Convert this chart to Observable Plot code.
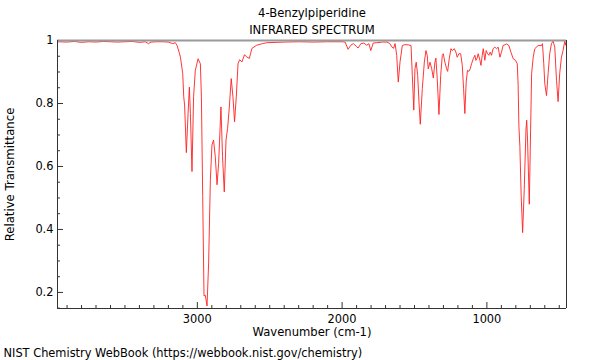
<!DOCTYPE html>
<html><head><meta charset="utf-8">
<script src="https://cdn.jsdelivr.net/npm/d3@7"></script>
<script src="https://cdn.jsdelivr.net/npm/@observablehq/plot@0.6"></script>
<style>body{margin:0;background:#fff;font-family:"DejaVu Sans",sans-serif}</style>
</head><body><div id="chart"></div>
<script>
const title = "4-Benzylpiperidine";
const subtitle = "INFRARED SPECTRUM";
const xLabel = "Wavenumber (cm-1)";
const yLabel = "Relative Transmittance";
const footer = "NIST Chemistry WebBook (https://webbook.nist.gov/chemistry)";
const xMajorTicks = [1000, 2000, 3000];
const yMajorTicks = [0.2, 0.4, 0.6, 0.8, 1];
const yTickLabels = ["0.2", "0.4", "0.6", "0.8", "1"];

const wavenumber = [3966,3900,3850,3800,3750,3700,3650,3600,3550,3500,3450,3400,3360,3338,3320,3280,3240,3200,3170,3152,3140,3124,3117,3101,3094,3088,3076,3064,3055,3048,3037,3026,3014,2995,2979,2972,2963,2954,2945,2933,2922,2910,2899,2888,2876,2864,2853,2837,2826,2814,2802,2791,2779,2766,2754,2743,2731,2719,2708,2692,2674,2660,2641,2623,2590,2550,2520,2400,2300,2200,2100,2000,1979,1959,1940,1922,1903,1890,1870,1850,1830,1815,1802,1785,1760,1720,1690,1670,1657,1645,1634,1623,1612,1600,1584,1566,1543,1524,1515,1505,1497,1488,1478,1469,1460,1446,1432,1421,1412,1405,1393,1381,1370,1359,1352,1343,1331,1319,1308,1301,1290,1278,1271,1260,1248,1239,1225,1214,1205,1193,1181,1170,1161,1152,1143,1134,1124,1115,1106,1094,1083,1076,1069,1060,1048,1041,1032,1025,1014,1005,995,986,977,968,957,945,933,922,910,899,888,864,848,834,818,802,790,784,779,772,763,753,742,730,725,719,707,698,691,680,669,646,623,616,607,600,588,577,566,554,543,531,519,508,497,485,474,462,455,450];
const transmittance = [0.996,0.995,0.997,0.994,0.996,0.995,0.997,0.996,0.995,0.996,0.997,0.994,0.996,0.990,0.995,0.996,0.996,0.995,0.990,0.993,0.984,0.960,0.947,0.895,0.821,0.795,0.644,0.768,0.852,0.768,0.584,0.821,0.905,0.942,0.926,0.821,0.505,0.189,0.191,0.157,0.294,0.558,0.668,0.684,0.631,0.542,0.610,0.789,0.631,0.519,0.684,0.721,0.789,0.879,0.821,0.742,0.821,0.926,0.939,0.932,0.955,0.948,0.943,0.975,0.985,0.990,0.993,0.995,0.996,0.995,0.996,0.996,0.995,0.972,0.985,0.990,0.982,0.976,0.990,0.992,0.985,0.990,0.968,0.992,0.993,0.995,0.995,0.990,0.980,0.975,0.990,0.953,0.868,0.932,0.984,0.987,0.986,0.984,0.889,0.779,0.910,0.931,0.889,0.805,0.734,0.847,0.931,0.968,0.953,0.910,0.931,0.910,0.881,0.931,0.944,0.879,0.765,0.889,0.953,0.958,0.931,0.910,0.902,0.942,0.974,0.968,0.974,0.963,0.947,0.958,0.958,0.921,0.847,0.768,0.868,0.905,0.902,0.910,0.926,0.942,0.953,0.937,0.942,0.958,0.937,0.921,0.953,0.974,0.937,0.968,0.958,0.953,0.963,0.953,0.974,0.979,0.974,0.979,0.947,0.963,0.984,0.989,0.984,0.963,0.942,0.937,0.926,0.858,0.731,0.663,0.505,0.390,0.526,0.716,0.747,0.684,0.480,0.716,0.895,0.947,0.974,0.984,0.984,0.990,0.926,0.863,0.825,0.895,0.958,0.990,0.998,0.979,0.874,0.806,0.895,0.947,0.968,0.998,0.985,0.998];

const spectrum = wavenumber.map((w, i) => ({w, t: transmittance[i]}));
const xMinor = d3.range(500, 3901, 100).filter(v => v % 1000 !== 0);
const yMinor = [0.15, 0.25, 0.3, 0.35, 0.45, 0.5, 0.55, 0.65, 0.7, 0.75, 0.85, 0.9, 0.95];

const W = 600, H = 360, mL = 57, mR = 34, mT = 40, mB = 52;
const fh = H - mT - mB, fw = W - mL - mR;
const font = "DejaVu Sans";

const chart = Plot.plot({
  width: W, height: H,
  marginLeft: mL, marginRight: mR, marginTop: mT, marginBottom: mB,
  style: {fontFamily: font, fontSize: "11px", background: "#fff", color: "#000"},
  x: {domain: [3966, 450], axis: null},
  y: {domain: [0.149, 1], axis: null},
  marks: [
    Plot.axisX(xMajorTicks, {anchor: "bottom", tickSize: 0, tickPadding: 6, fontSize: 11.4, label: null, tickFormat: d => String(d)}),
    Plot.axisY(yMajorTicks, {anchor: "left", tickSize: 0, tickPadding: 4, fontSize: 11.4, label: null, tickFormat: d => yTickLabels[yMajorTicks.indexOf(d)]}),
    Plot.ruleX(xMajorTicks, {x: d => d, insetTop: fh - 6, stroke: "#333"}),
    Plot.ruleX(xMinor, {x: d => d, insetTop: fh - 3, stroke: "#333"}),
    Plot.ruleY(yMajorTicks, {y: d => d, insetRight: fw - 6, stroke: "#333"}),
    Plot.ruleY(yMinor, {y: d => d, insetRight: fw - 3, stroke: "#333"}),
    Plot.line(spectrum, {x: "w", y: "t", stroke: "#ff2020", strokeWidth: 0.9}),
    Plot.ruleY([1], {stroke: "#9a9a9a", strokeWidth: 2}),
    Plot.ruleY([0.149], {stroke: "#333"}),
    Plot.ruleX([3966], {stroke: "#333"}),
    Plot.ruleX([450], {stroke: "#333"}),
    Plot.text([title], {frameAnchor: "top", lineAnchor: "middle", dy: -27, text: d => d, fontSize: 11.6}),
    Plot.text([subtitle], {frameAnchor: "top", lineAnchor: "middle", dy: -10, text: d => d, fontSize: 11.6}),
    Plot.text([xLabel], {frameAnchor: "bottom", lineAnchor: "middle", dy: 24, text: d => d, fontSize: 11.6}),
    Plot.text([yLabel], {frameAnchor: "left", textAnchor: "middle", lineAnchor: "middle", dx: -47, rotate: -90, text: d => d, fontSize: 11.7}),
    Plot.text([footer], {frameAnchor: "bottom-left", lineAnchor: "middle", dx: -54, dy: 45, textAnchor: "start", text: d => d, fontSize: 11.4})
  ]
});
document.getElementById("chart").appendChild(chart);
</script>
</body></html>
